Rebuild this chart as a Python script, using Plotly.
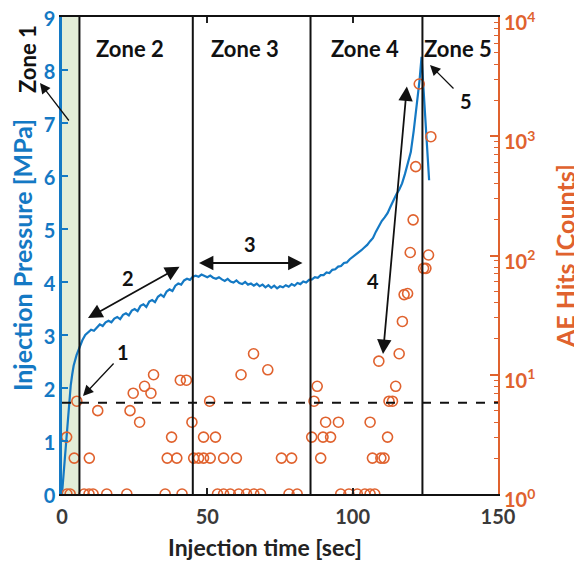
import plotly.graph_objects as go

# ---------------- data ----------------
pressure_time = [0, 0.5, 1, 1.5, 2, 2.5, 3, 3.5, 4, 5, 6, 7, 8, 9, 10, 11, 12, 13, 14, 15,
                 16, 17, 18, 19, 20, 21, 22, 23, 24, 25, 26, 27, 28, 29, 30, 31, 32, 33, 34, 35,
                 36, 37, 38, 39, 40, 41, 42, 43, 44, 45, 46, 47, 48, 49, 50, 51, 52, 53, 54, 55,
                 56, 57, 58, 59, 60, 61, 62, 63, 64, 65, 66, 67, 68, 69, 70, 71, 72, 73, 74, 75,
                 76, 77, 78, 79, 80, 81, 82, 83, 84, 85, 86, 87, 88, 89, 90, 91, 92, 93, 94, 95,
                 96, 97, 98, 99, 100, 101, 102, 103, 104, 105, 106, 107, 108, 109, 110, 111, 112,
                 113, 114, 115, 116, 117, 118, 119, 120, 121, 122, 123, 123.7, 124.3, 125, 125.7, 126.3]
pressure_mpa = [0.00, 0.35, 0.75, 1.15, 1.50, 1.80, 2.05, 2.25, 2.42, 2.62, 2.78, 2.90, 3.00, 3.06,
                3.10, 3.08, 3.15, 3.20, 3.17, 3.24, 3.27, 3.24, 3.31, 3.34, 3.30, 3.38, 3.41, 3.37,
                3.46, 3.49, 3.45, 3.55, 3.58, 3.53, 3.63, 3.66, 3.62, 3.72, 3.76, 3.72, 3.82, 3.86,
                3.83, 3.93, 3.97, 3.95, 4.03, 4.06, 4.04, 4.10, 4.12, 4.10, 4.14, 4.12, 4.09, 4.12,
                4.08, 4.06, 4.09, 4.05, 4.02, 4.06, 4.01, 3.99, 4.03, 3.98, 3.96, 4.00, 3.95, 3.97,
                3.93, 3.97, 3.92, 3.95, 3.90, 3.94, 3.89, 3.93, 3.88, 3.92, 3.90, 3.94, 3.91, 3.96,
                3.93, 3.98, 3.96, 4.01, 3.99, 4.04, 4.05, 4.09, 4.08, 4.13, 4.13, 4.18, 4.17, 4.23,
                4.24, 4.29, 4.30, 4.36, 4.37, 4.43, 4.47, 4.51, 4.55, 4.60, 4.65, 4.70, 4.77, 4.83,
                4.95, 5.05, 5.15, 5.22, 5.30, 5.42, 5.55, 5.65, 5.74, 5.86, 6.04, 6.24, 6.45, 6.85,
                7.28, 7.80, 8.25, 7.70, 7.10, 6.45, 5.92]

hits_time = [1.7, 2.8, 7.6, 9.3, 10.7, 15.4, 22.3, 35.5, 41.3, 53.5, 55.6, 57.9, 60.8, 63.5,
             66.0, 68.3, 78.1, 80.9, 95.9, 98.7, 101.6, 104.2, 106.0, 107.6,
             4.2, 9.4, 36.2, 39.5, 45.3, 47.0, 48.7, 51.0, 55.6, 60.0, 75.5, 79.0, 89.0,
             106.8, 109.7, 110.8,
             1.6, 37.7, 48.7, 52.8, 85.9, 89.8, 92.4, 112.0,
             26.7, 44.7, 90.7, 95.1, 106.0,
             12.3, 23.4,
             5.1, 50.8, 86.7, 112.5, 113.7,
             24.5, 30.6,
             28.4, 87.8, 114.8,
             40.7, 42.8,
             31.5, 61.6,
             70.8, 109.0, 65.9, 116.0, 117.1, 117.7, 118.9,
             124.4, 125.2, 126.1, 119.8, 120.8, 121.7, 126.9, 122.9]
hits_counts = [1, 1, 1, 1, 1, 1, 1, 1, 1, 1, 1, 1, 1, 1,
               1, 1, 1, 1, 1, 1, 1, 1, 1, 1,
               2, 2, 2, 2, 2, 2, 2, 2, 2, 2, 2, 2, 2,
               2, 2, 2,
               3, 3, 3, 3, 3, 3, 3, 3,
               4, 4, 4, 4, 4,
               5, 5,
               6, 6, 6, 6, 6,
               7, 7,
               8, 8, 8,
               9, 9,
               10, 10,
               11, 13, 15, 15, 28, 47, 48,
               78, 78, 101, 106, 199, 556, 991, 2742]

zone_boundaries = [6, 45, 85.5, 124]
zone1_end = 6
threshold_mpa = 1.72
x_ticks = [0, 50, 100, 150]
y_ticks = [0, 1, 2, 3, 4, 5, 6, 7, 8, 9]
y2_ticks = [1, 10, 100, 1000, 10000]
y2_ticktext = ["10<sup>0</sup>", "10<sup>1</sup>", "10<sup>2</sup>", "10<sup>3</sup>", "10<sup>4</sup>"]
y2_minor = [m * d for d in (1, 10, 100, 1000) for m in (2, 3, 4, 5, 6, 7, 8, 9)]

# ---------------- styling ----------------
# the page body adds an 8px margin, so the figure is drawn 8px smaller and shifted
OFF = 8
W, H = 582 - OFF, 566 - OFF
L, R, T, B = 62 - OFF, 84, 17 - OFF, 72
PW, PH = W - L - R, H - T - B
BLUE = "#1479C4"
ORANGE = "#E0622E"
FONT = "Lato"


def px(xp):
    """reference screenshot pixel x -> paper x"""
    return (xp - OFF - L) / PW


def py(yp):
    """reference screenshot pixel y -> paper y"""
    return (H - B - (yp - OFF)) / PH


fig = go.Figure()

fig.add_trace(go.Scatter(x=pressure_time, y=pressure_mpa, mode="lines",
                         line=dict(color=BLUE, width=2.2), yaxis="y", showlegend=False))
fig.add_trace(go.Scatter(x=hits_time, y=hits_counts, mode="markers", yaxis="y2",
                         marker=dict(symbol="circle-open", size=10, color=ORANGE,
                                     line=dict(width=1.6, color=ORANGE)),
                         showlegend=False))

shapes = [dict(type="rect", xref="x", yref="paper", x0=0, x1=zone1_end, y0=0, y1=1,
               fillcolor="#E3EDD8", line=dict(width=0), layer="below")]
for zb in zone_boundaries:
    shapes.append(dict(type="line", xref="x", yref="paper", x0=zb, x1=zb, y0=0, y1=1,
                       line=dict(color="#111111", width=2)))
shapes.append(dict(type="line", xref="paper", yref="y", x0=0, x1=1, y0=threshold_mpa,
                   y1=threshold_mpa, line=dict(color="#111111", width=2, dash="dash")))

ann = []
zone_font = dict(family=FONT, size=22, color="#111111", weight="bold")
for label, xc in [("Zone 2", 130), ("Zone 3", 245), ("Zone 4", 365), ("Zone 5", 458)]:
    ann.append(dict(text=label, xref="paper", yref="paper", x=px(xc), y=py(48),
                    showarrow=False, font=zone_font, xanchor="center", yanchor="middle"))
ann.append(dict(text="Zone 1", xref="paper", yref="paper", x=px(28), y=py(59),
                showarrow=False, font=zone_font, textangle=-90,
                xanchor="center", yanchor="middle"))

num_font = dict(family=FONT, size=20, color="#111111", weight="bold")
for label, xc, yc in [("1", 123, 352), ("2", 128, 278), ("3", 250, 244),
                      ("4", 373, 281), ("5", 466, 101)]:
    ann.append(dict(text=label, xref="paper", yref="paper", x=px(xc), y=py(yc),
                    showarrow=False, font=num_font, xanchor="center", yanchor="middle"))

# arrows: (tip_x, tip_y, tail_x, tail_y, double, width) in reference pixels
arrows = [(40, 83, 70, 122, False, 1.3),
          (83, 396, 115, 362, False, 1.3),
          (88, 318, 181, 266, True, 1.8),
          (199, 263, 304, 263, True, 1.8),
          (383, 354, 407, 85, True, 1.8),
          (430, 65, 455, 90, False, 1.3)]
for tx, ty, sx, sy, dbl, w in arrows:
    a = dict(text="", xref="paper", yref="paper", x=px(tx), y=py(ty),
             ax=sx - tx, ay=sy - ty, showarrow=True, arrowhead=2, arrowsize=1.6,
             arrowwidth=w, arrowcolor="#111111", standoff=0, startstandoff=0)
    if dbl:
        a.update(arrowside="end+start", startarrowhead=2, startarrowsize=1.6)
    ann.append(a)

title_font = dict(family=FONT, size=23, weight="bold")
vtitle_font = dict(family=FONT, size=25, weight="bold")
ann.append(dict(text="Injection Pressure [MPa]", xref="paper", yref="paper", x=px(22), y=py(255),
                showarrow=False, textangle=-90, font=dict(vtitle_font, color=BLUE),
                xanchor="center", yanchor="middle"))
ann.append(dict(text="AE Hits [Counts]", xref="paper", yref="paper", x=px(565), y=py(256),
                showarrow=False, textangle=-90, font=dict(vtitle_font, color=ORANGE),
                xanchor="center", yanchor="middle"))
ann.append(dict(text="Injection time [sec]", xref="paper", yref="paper", x=px(265), y=py(547),
                showarrow=False, font=dict(title_font, color="#222222"),
                xanchor="center", yanchor="middle"))

tick_font = dict(family=FONT, size=20, weight="bold")

fig.update_layout(
    template="none",
    width=W, height=H,
    margin=dict(l=L, r=R, t=T, b=B, autoexpand=False),
    paper_bgcolor="white", plot_bgcolor="white",
    shapes=shapes, annotations=ann,
    xaxis=dict(range=[0, 150], tickvals=x_ticks, ticks="inside", ticklen=6, tickwidth=1.5,
               tickcolor="#222222", showline=True, linecolor="#111111", linewidth=2,
               mirror="ticks", showgrid=False, zeroline=False, automargin=False,
               ticklabeloverflow="allow",
               ticklabelstandoff=4, tickfont=dict(tick_font, color="#3A3A3A")),
    yaxis=dict(range=[0, 9], tickvals=y_ticks, ticks="inside", ticklen=6, tickwidth=2,
               tickcolor=BLUE, showline=True, linecolor=BLUE, linewidth=2.5,
               showgrid=False, zeroline=False, automargin=False,
               ticklabeloverflow="allow", ticklabelshift=2,
               tickfont=dict(tick_font, color=BLUE)),
    yaxis2=dict(type="log", range=[0, 4], overlaying="y", side="right",
                tickvals=y2_ticks, ticktext=y2_ticktext, ticks="inside", ticklen=8,
                tickwidth=1.5, tickcolor=ORANGE, showline=True, linecolor=ORANGE, linewidth=2,
                showgrid=False, zeroline=False, automargin=False,
                ticklabeloverflow="allow", ticklabelshift=6,
                tickfont=dict(tick_font, color=ORANGE),
                minor=dict(tickvals=y2_minor, ticks="inside", ticklen=4, tickwidth=1.2,
                           tickcolor=ORANGE, showgrid=False)),
)

fig.write_html("out.html")
